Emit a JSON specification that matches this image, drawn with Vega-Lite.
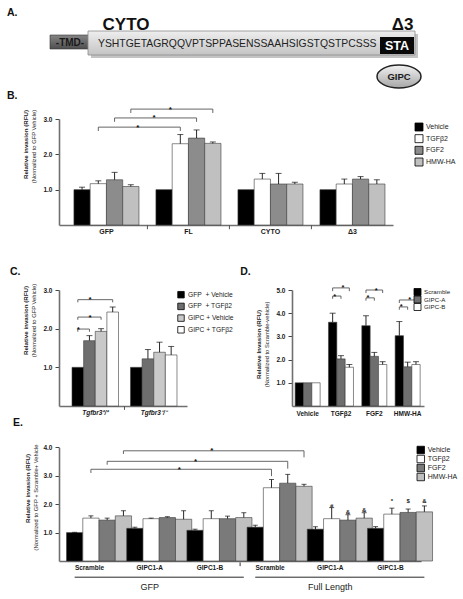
{
"$schema": "https://vega.github.io/schema/vega-lite/v6.json",
"padding": 0,
"background": "white",
"bounds": "flush",
"spacing": 29,
"resolve": {"scale": {"fill": "independent"}, "legend": {"fill": "independent"}},
"config": {
  "font": "Liberation Sans",
  "view": {"stroke": null},
  "axis": {"grid": false, "domainColor": "#707070", "domainWidth": 1.6, "tickColor": "#444444", "tickWidth": 1, "labelFont": "Liberation Sans", "labelFontWeight": "bold", "labelFontSize": 6.5, "labelColor": "#1a1a1a", "titleFont": "Liberation Sans", "titleFontSize": 6, "titleColor": "#1a1a1a"},
  "legend": {"symbolType": "square", "symbolStrokeColor": "#000000", "symbolStrokeWidth": 0.8, "labelFont": "Liberation Sans", "labelColor": "#1a1a1a", "labelOffset": 3, "padding": 0}
},
"datasets": {
  "diagram": [
    {"part": "frame", "x0": 0, "x1": 463, "y0": 0, "y1": 90},
    {"part": "shadow", "x0": 91, "x1": 418, "y0": 34, "y1": 58},
    {"part": "tmd", "x0": 50, "x1": 90, "y0": 35, "y1": 49},
    {"part": "cyto", "x0": 88, "x1": 415, "y0": 31, "y1": 55},
    {"part": "sta", "x0": 380, "x1": 414, "y0": 37, "y1": 54},
    {"part": "gipc", "x0": 399, "y0": 76.5}
  ],
  "diagram_text": [
    {"part": "panel", "label": "A.", "x": 7, "y": 16},
    {"part": "big", "label": "CYTO", "x": 126, "y": 30},
    {"part": "big", "label": "Δ3", "x": 402.5, "y": 30},
    {"part": "tmd", "label": "-TMD-", "x": 70, "y": 45.5},
    {"part": "seq", "label": "YSHTGETAGRQQVPTSPPASENSSAAHSIGSTQSTPCSSS", "x": 98, "y": 46.8},
    {"part": "sta", "label": "STA", "x": 397, "y": 49.8},
    {"part": "gipc", "label": "GIPC", "x": 399, "y": 80}
  ],
  "b_bars": [
    {"g": "GFP", "t": "Vehicle", "v": 1.0, "u": 1.07},
    {"g": "GFP", "t": "TGFβ2", "v": 1.17, "u": 1.25},
    {"g": "GFP", "t": "FGF2", "v": 1.28, "u": 1.49},
    {"g": "GFP", "t": "HMW-HA", "v": 1.09, "u": 1.14},
    {"g": "FL", "t": "Vehicle", "v": 1.0, "u": null},
    {"g": "FL", "t": "TGFβ2", "v": 2.30, "u": 2.56},
    {"g": "FL", "t": "FGF2", "v": 2.46, "u": 2.69},
    {"g": "FL", "t": "HMW-HA", "v": 2.31, "u": 2.35},
    {"g": "CYTO", "t": "Vehicle", "v": 1.0, "u": null},
    {"g": "CYTO", "t": "TGFβ2", "v": 1.30, "u": 1.46},
    {"g": "CYTO", "t": "FGF2", "v": 1.16, "u": 1.46},
    {"g": "CYTO", "t": "HMW-HA", "v": 1.16, "u": 1.21},
    {"g": "Δ3", "t": "Vehicle", "v": 1.0, "u": null},
    {"g": "Δ3", "t": "TGFβ2", "v": 1.16, "u": 1.30},
    {"g": "Δ3", "t": "FGF2", "v": 1.30, "u": 1.37},
    {"g": "Δ3", "t": "HMW-HA", "v": 1.16, "u": 1.28}
  ],
  "b_brackets": [
    {"id": "b1", "g": "GFP", "t": "TGFβ2", "y": 2.66, "o": 1},
    {"id": "b1", "g": "GFP", "t": "TGFβ2", "y": 2.77, "o": 2},
    {"id": "b1", "g": "FL", "t": "TGFβ2", "y": 2.77, "o": 3},
    {"id": "b1", "g": "FL", "t": "TGFβ2", "y": 2.66, "o": 4},
    {"id": "b2", "g": "GFP", "t": "FGF2", "y": 2.92, "o": 1},
    {"id": "b2", "g": "GFP", "t": "FGF2", "y": 3.03, "o": 2},
    {"id": "b2", "g": "FL", "t": "FGF2", "y": 3.03, "o": 3},
    {"id": "b2", "g": "FL", "t": "FGF2", "y": 2.92, "o": 4},
    {"id": "b3", "g": "GFP", "t": "HMW-HA", "y": 3.17, "o": 1},
    {"id": "b3", "g": "GFP", "t": "HMW-HA", "y": 3.28, "o": 2},
    {"id": "b3", "g": "FL", "t": "HMW-HA", "y": 3.28, "o": 3},
    {"id": "b3", "g": "FL", "t": "HMW-HA", "y": 3.17, "o": 4}
  ],
  "b_stars": [
    {"g": "GFP", "t": "TGFβ2", "y": 2.77},
    {"g": "GFP", "t": "FGF2", "y": 3.03},
    {"g": "GFP", "t": "HMW-HA", "y": 3.28}
  ],
  "b_seps": [{"g": "FL"}, {"g": "CYTO"}, {"g": "Δ3"}],
  "b_label": [{"g": "GFP", "label": "B.", "y": 3.552}],
  "c_bars": [
    {"g": "Tgfbr3⁺/⁺", "t": "GFP\u00a0 + Vehicle", "v": 1.0, "u": null},
    {"g": "Tgfbr3⁺/⁺", "t": "GFP\u00a0 + TGFβ2", "v": 1.69, "u": 1.82},
    {"g": "Tgfbr3⁺/⁺", "t": "GIPC + Vehicle", "v": 1.93, "u": 2.00},
    {"g": "Tgfbr3⁺/⁺", "t": "GIPC + TGFβ2", "v": 2.43, "u": 2.56},
    {"g": "Tgfbr3⁻/⁻", "t": "GFP\u00a0 + Vehicle", "v": 1.0, "u": null},
    {"g": "Tgfbr3⁻/⁻", "t": "GFP\u00a0 + TGFβ2", "v": 1.22, "u": 1.46},
    {"g": "Tgfbr3⁻/⁻", "t": "GIPC + Vehicle", "v": 1.39, "u": 1.65},
    {"g": "Tgfbr3⁻/⁻", "t": "GIPC + TGFβ2", "v": 1.32, "u": 1.54}
  ],
  "c_brackets": [
    {"id": "b1", "g": "Tgfbr3⁺/⁺", "t": "GFP\u00a0 + Vehicle", "y": 1.92, "o": 1},
    {"id": "b1", "g": "Tgfbr3⁺/⁺", "t": "GFP\u00a0 + Vehicle", "y": 1.99, "o": 2},
    {"id": "b1", "g": "Tgfbr3⁺/⁺", "t": "GFP\u00a0 + TGFβ2", "y": 1.99, "o": 3},
    {"id": "b1", "g": "Tgfbr3⁺/⁺", "t": "GFP\u00a0 + TGFβ2", "y": 1.92, "o": 4},
    {"id": "b2", "g": "Tgfbr3⁺/⁺", "t": "GFP\u00a0 + Vehicle", "y": 2.23, "o": 1},
    {"id": "b2", "g": "Tgfbr3⁺/⁺", "t": "GFP\u00a0 + Vehicle", "y": 2.30, "o": 2},
    {"id": "b2", "g": "Tgfbr3⁺/⁺", "t": "GIPC + Vehicle", "y": 2.30, "o": 3},
    {"id": "b2", "g": "Tgfbr3⁺/⁺", "t": "GIPC + Vehicle", "y": 2.23, "o": 4},
    {"id": "b3", "g": "Tgfbr3⁺/⁺", "t": "GFP\u00a0 + Vehicle", "y": 2.68, "o": 1},
    {"id": "b3", "g": "Tgfbr3⁺/⁺", "t": "GFP\u00a0 + Vehicle", "y": 2.75, "o": 2},
    {"id": "b3", "g": "Tgfbr3⁺/⁺", "t": "GIPC + TGFβ2", "y": 2.75, "o": 3},
    {"id": "b3", "g": "Tgfbr3⁺/⁺", "t": "GIPC + TGFβ2", "y": 2.68, "o": 4}
  ],
  "c_stars": [
    {"g": "Tgfbr3⁺/⁺", "t": "GFP\u00a0 + Vehicle", "y": 1.99},
    {"g": "Tgfbr3⁺/⁺", "t": "GFP\u00a0 + TGFβ2", "y": 2.30},
    {"g": "Tgfbr3⁺/⁺", "t": "GFP\u00a0 + TGFβ2", "y": 2.75}
  ],
  "c_seps": [{"g": "Tgfbr3⁻/⁻"}],
  "c_label": [{"g": "Tgfbr3⁺/⁺", "label": "C.", "y": 3.388}],
  "d_bars": [
    {"g": "Vehicle", "t": "Scramble", "v": 1.0, "u": null},
    {"g": "Vehicle", "t": "GIPC-A", "v": 1.0, "u": null},
    {"g": "Vehicle", "t": "GIPC-B", "v": 1.0, "u": null},
    {"g": "TGFβ2", "t": "Scramble", "v": 3.61, "u": 4.0},
    {"g": "TGFβ2", "t": "GIPC-A", "v": 2.03, "u": 2.17},
    {"g": "TGFβ2", "t": "GIPC-B", "v": 1.67, "u": 1.79},
    {"g": "FGF2", "t": "Scramble", "v": 3.46, "u": 3.89},
    {"g": "FGF2", "t": "GIPC-A", "v": 2.14, "u": 2.31},
    {"g": "FGF2", "t": "GIPC-B", "v": 1.79, "u": 1.91},
    {"g": "HMW-HA", "t": "Scramble", "v": 3.03, "u": 3.64},
    {"g": "HMW-HA", "t": "GIPC-A", "v": 1.69, "u": 1.89},
    {"g": "HMW-HA", "t": "GIPC-B", "v": 1.79, "u": 1.91}
  ],
  "d_brackets": [
    {"id": "t1", "g": "TGFβ2", "t": "Scramble", "y": 4.95, "o": 1},
    {"id": "t1", "g": "TGFβ2", "t": "Scramble", "y": 5.09, "o": 2},
    {"id": "t1", "g": "TGFβ2", "t": "GIPC-B", "y": 5.09, "o": 3},
    {"id": "t1", "g": "TGFβ2", "t": "GIPC-B", "y": 4.95, "o": 4},
    {"id": "t2", "g": "TGFβ2", "t": "Scramble", "y": 4.62, "o": 1},
    {"id": "t2", "g": "TGFβ2", "t": "Scramble", "y": 4.74, "o": 2},
    {"id": "t2", "g": "TGFβ2", "t": "GIPC-A", "y": 4.74, "o": 3},
    {"id": "t2", "g": "TGFβ2", "t": "GIPC-A", "y": 4.62, "o": 4},
    {"id": "f1", "g": "FGF2", "t": "Scramble", "y": 4.87, "o": 1},
    {"id": "f1", "g": "FGF2", "t": "Scramble", "y": 5.0, "o": 2},
    {"id": "f1", "g": "FGF2", "t": "GIPC-B", "y": 5.0, "o": 3},
    {"id": "f1", "g": "FGF2", "t": "GIPC-B", "y": 4.87, "o": 4},
    {"id": "f2", "g": "FGF2", "t": "Scramble", "y": 4.54, "o": 1},
    {"id": "f2", "g": "FGF2", "t": "Scramble", "y": 4.66, "o": 2},
    {"id": "f2", "g": "FGF2", "t": "GIPC-A", "y": 4.66, "o": 3},
    {"id": "f2", "g": "FGF2", "t": "GIPC-A", "y": 4.54, "o": 4},
    {"id": "h1", "g": "HMW-HA", "t": "Scramble", "y": 4.44, "o": 1},
    {"id": "h1", "g": "HMW-HA", "t": "Scramble", "y": 4.57, "o": 2},
    {"id": "h1", "g": "HMW-HA", "t": "GIPC-B", "y": 4.57, "o": 3},
    {"id": "h1", "g": "HMW-HA", "t": "GIPC-B", "y": 4.44, "o": 4},
    {"id": "h2", "g": "HMW-HA", "t": "Scramble", "y": 4.15, "o": 1},
    {"id": "h2", "g": "HMW-HA", "t": "Scramble", "y": 4.27, "o": 2},
    {"id": "h2", "g": "HMW-HA", "t": "GIPC-A", "y": 4.27, "o": 3},
    {"id": "h2", "g": "HMW-HA", "t": "GIPC-A", "y": 4.15, "o": 4}
  ],
  "d_stars": [
    {"g": "TGFβ2", "t": "GIPC-A", "y": 5.09},
    {"g": "TGFβ2", "t": "Scramble", "y": 4.74},
    {"g": "FGF2", "t": "GIPC-A", "y": 5.0},
    {"g": "FGF2", "t": "Scramble", "y": 4.66},
    {"g": "HMW-HA", "t": "GIPC-A", "y": 4.57},
    {"g": "HMW-HA", "t": "Scramble", "y": 4.27}
  ],
  "d_label": [{"g": "Vehicle", "label": "D.", "y": 5.65}],
  "e_bars": [
    {"g": "GFP|Scramble", "t": "Vehicle", "v": 1.0, "u": 1.01},
    {"g": "GFP|Scramble", "t": "TGFβ2", "v": 1.51, "u": 1.59},
    {"g": "GFP|Scramble", "t": "FGF2", "v": 1.44, "u": 1.51},
    {"g": "GFP|Scramble", "t": "HMW-HA", "v": 1.59, "u": 1.77},
    {"g": "GFP|GIPC1-A", "t": "Vehicle", "v": 1.15, "u": 1.19},
    {"g": "GFP|GIPC1-A", "t": "TGFβ2", "v": 1.49, "u": 1.51},
    {"g": "GFP|GIPC1-A", "t": "FGF2", "v": 1.53, "u": 1.56},
    {"g": "GFP|GIPC1-A", "t": "HMW-HA", "v": 1.47, "u": 1.77},
    {"g": "GFP|GIPC1-B", "t": "Vehicle", "v": 1.08, "u": 1.12},
    {"g": "GFP|GIPC1-B", "t": "TGFβ2", "v": 1.49, "u": 1.77},
    {"g": "GFP|GIPC1-B", "t": "FGF2", "v": 1.49, "u": 1.58},
    {"g": "GFP|GIPC1-B", "t": "HMW-HA", "v": 1.53, "u": 1.70},
    {"g": "FL|Scramble", "t": "Vehicle", "v": 1.19, "u": 1.26},
    {"g": "FL|Scramble", "t": "TGFβ2", "v": 2.58, "u": 2.87},
    {"g": "FL|Scramble", "t": "FGF2", "v": 2.74, "u": 3.05},
    {"g": "FL|Scramble", "t": "HMW-HA", "v": 2.63, "u": 2.70},
    {"g": "FL|GIPC1-A", "t": "Vehicle", "v": 1.12, "u": 1.21},
    {"g": "FL|GIPC1-A", "t": "TGFβ2", "v": 1.49, "u": 1.88},
    {"g": "FL|GIPC1-A", "t": "FGF2", "v": 1.44, "u": 1.63},
    {"g": "FL|GIPC1-A", "t": "HMW-HA", "v": 1.51, "u": 1.70},
    {"g": "FL|GIPC1-B", "t": "Vehicle", "v": 1.15, "u": 1.21},
    {"g": "FL|GIPC1-B", "t": "TGFβ2", "v": 1.65, "u": 1.86},
    {"g": "FL|GIPC1-B", "t": "FGF2", "v": 1.71, "u": 1.83},
    {"g": "FL|GIPC1-B", "t": "HMW-HA", "v": 1.73, "u": 1.94}
  ],
  "e_brackets": [
    {"id": "b1", "g": "GFP|Scramble", "t": "TGFβ2", "y": 3.10, "o": 1},
    {"id": "b1", "g": "GFP|Scramble", "t": "TGFβ2", "y": 3.23, "o": 2},
    {"id": "b1", "g": "FL|Scramble", "t": "TGFβ2", "y": 3.23, "o": 3},
    {"id": "b1", "g": "FL|Scramble", "t": "TGFβ2", "y": 2.99, "o": 4},
    {"id": "b2", "g": "GFP|Scramble", "t": "FGF2", "y": 3.39, "o": 1},
    {"id": "b2", "g": "GFP|Scramble", "t": "FGF2", "y": 3.51, "o": 2},
    {"id": "b2", "g": "FL|Scramble", "t": "FGF2", "y": 3.51, "o": 3},
    {"id": "b2", "g": "FL|Scramble", "t": "FGF2", "y": 3.25, "o": 4},
    {"id": "b3", "g": "GFP|Scramble", "t": "HMW-HA", "y": 3.77, "o": 1},
    {"id": "b3", "g": "GFP|Scramble", "t": "HMW-HA", "y": 3.88, "o": 2},
    {"id": "b3", "g": "FL|Scramble", "t": "HMW-HA", "y": 3.88, "o": 3},
    {"id": "b3", "g": "FL|Scramble", "t": "HMW-HA", "y": 3.65, "o": 4}
  ],
  "e_stars": [
    {"g": "GFP|Scramble", "t": "TGFβ2", "y": 3.23},
    {"g": "GFP|Scramble", "t": "FGF2", "y": 3.51},
    {"g": "GFP|Scramble", "t": "HMW-HA", "y": 3.88}
  ],
  "e_marks": [
    {"g": "FL|GIPC1-A", "t": "TGFβ2", "s": "#", "y": 1.93},
    {"g": "FL|GIPC1-A", "t": "FGF2", "s": "&", "y": 1.71},
    {"g": "FL|GIPC1-A", "t": "HMW-HA", "s": "&", "y": 1.80},
    {"g": "FL|GIPC1-B", "t": "TGFβ2", "s": "*", "y": 2.11},
    {"g": "FL|GIPC1-B", "t": "FGF2", "s": "$", "y": 2.11},
    {"g": "FL|GIPC1-B", "t": "HMW-HA", "s": "&", "y": 2.11}
  ],
  "e_lines": [
    {"id": "gfp", "g": "GFP|Scramble", "t": "Vehicle", "y": -0.57, "o": 1},
    {"id": "gfp", "g": "GFP|GIPC1-B", "t": "HMW-HA", "y": -0.57, "o": 2},
    {"id": "fl", "g": "FL|Scramble", "t": "Vehicle", "y": -0.57, "o": 1},
    {"id": "fl", "g": "FL|GIPC1-B", "t": "HMW-HA", "y": -0.57, "o": 2}
  ],
  "e_groups": [
    {"g": "GFP|GIPC1-A", "label": "GFP", "y": -0.93},
    {"g": "FL|GIPC1-A", "label": "Full Length", "y": -0.93}
  ],
  "e_seps": [{"g": "FL|Scramble"}],
  "e_label": [{"g": "GFP|Scramble", "label": "E.", "y": 4.754}]
},
"vconcat": [
  {
   "width": 404, "height": 90,
   "layer": [
    {"data": {"name": "diagram"}, "transform": [{"filter": "datum.part == 'frame'"}],
     "mark": {"type": "rect", "fill": "#ffffff"},
     "encoding": {
       "x": {"field": "x0", "type": "quantitative", "scale": {"domain": [59, 463], "nice": false, "zero": false}, "axis": null},
       "x2": {"field": "x1"},
       "y": {"field": "y0", "type": "quantitative", "scale": {"domain": [0, 90], "reverse": true, "nice": false, "zero": false}, "axis": null},
       "y2": {"field": "y1"}}},
    {"data": {"name": "diagram"}, "transform": [{"filter": "datum.part == 'shadow'"}],
     "mark": {"type": "rect", "fill": "#8a8a8a", "opacity": 0.5},
     "encoding": {"x": {"field": "x0", "type": "quantitative", "axis": null}, "x2": {"field": "x1"}, "y": {"field": "y0", "type": "quantitative", "axis": null}, "y2": {"field": "y1"}}},
    {"data": {"name": "diagram"}, "transform": [{"filter": "datum.part == 'tmd'"}],
     "mark": {"type": "rect", "stroke": "#333333", "strokeWidth": 0.6, "fill": {"gradient": "linear", "x1": 0, "y1": 0, "x2": 0, "y2": 1, "stops": [{"offset": 0, "color": "#858585"}, {"offset": 1, "color": "#4e4e4e"}]}},
     "encoding": {"x": {"field": "x0", "type": "quantitative", "axis": null}, "x2": {"field": "x1"}, "y": {"field": "y0", "type": "quantitative", "axis": null}, "y2": {"field": "y1"}}},
    {"data": {"name": "diagram"}, "transform": [{"filter": "datum.part == 'cyto'"}],
     "mark": {"type": "rect", "stroke": "#8a8a8a", "strokeWidth": 0.8, "fill": {"gradient": "linear", "x1": 0, "y1": 0, "x2": 0, "y2": 1, "stops": [{"offset": 0, "color": "#eeeeee"}, {"offset": 1, "color": "#c4c4c4"}]}},
     "encoding": {"x": {"field": "x0", "type": "quantitative", "axis": null}, "x2": {"field": "x1"}, "y": {"field": "y0", "type": "quantitative", "axis": null}, "y2": {"field": "y1"}}},
    {"data": {"name": "diagram"}, "transform": [{"filter": "datum.part == 'sta'"}],
     "mark": {"type": "rect", "fill": "#0a0a0a"},
     "encoding": {"x": {"field": "x0", "type": "quantitative", "axis": null}, "x2": {"field": "x1"}, "y": {"field": "y0", "type": "quantitative", "axis": null}, "y2": {"field": "y1"}}},
    {"data": {"name": "diagram"}, "transform": [{"filter": "datum.part == 'gipc'"}],
     "mark": {"type": "point", "filled": true, "opacity": 1, "size": 1936, "shape": "M -1 0 A 1 0.52 0 1 1 1 0 A 1 0.52 0 1 1 -1 0 Z", "stroke": "#222222", "strokeWidth": 1.5, "fill": {"gradient": "linear", "x1": 0, "y1": 0, "x2": 0, "y2": 1, "stops": [{"offset": 0, "color": "#f2f2f2"}, {"offset": 1, "color": "#a6a6a6"}]}},
     "encoding": {"x": {"field": "x0", "type": "quantitative", "axis": null}, "y": {"field": "y0", "type": "quantitative", "axis": null}}},
    {"data": {"name": "diagram_text"}, "transform": [{"filter": "datum.part == 'panel'"}],
     "mark": {"type": "text", "align": "left", "baseline": "alphabetic", "fontSize": 10.5, "fontWeight": "bold", "color": "#111111"},
     "encoding": {"x": {"field": "x", "type": "quantitative", "axis": null}, "y": {"field": "y", "type": "quantitative", "axis": null}, "text": {"field": "label"}}},
    {"data": {"name": "diagram_text"}, "transform": [{"filter": "datum.part == 'big'"}],
     "mark": {"type": "text", "align": "center", "baseline": "alphabetic", "fontSize": 17, "fontWeight": "bold", "color": "#111111"},
     "encoding": {"x": {"field": "x", "type": "quantitative", "axis": null}, "y": {"field": "y", "type": "quantitative", "axis": null}, "text": {"field": "label"}}},
    {"data": {"name": "diagram_text"}, "transform": [{"filter": "datum.part == 'tmd'"}],
     "mark": {"type": "text", "align": "center", "baseline": "alphabetic", "fontSize": 10, "fontWeight": "bold", "color": "#1a1a1a"},
     "encoding": {"x": {"field": "x", "type": "quantitative", "axis": null}, "y": {"field": "y", "type": "quantitative", "axis": null}, "text": {"field": "label"}}},
    {"data": {"name": "diagram_text"}, "transform": [{"filter": "datum.part == 'seq'"}],
     "mark": {"type": "text", "align": "left", "baseline": "alphabetic", "fontSize": 10.4, "color": "#222222"},
     "encoding": {"x": {"field": "x", "type": "quantitative", "axis": null}, "y": {"field": "y", "type": "quantitative", "axis": null}, "text": {"field": "label"}}},
    {"data": {"name": "diagram_text"}, "transform": [{"filter": "datum.part == 'sta'"}],
     "mark": {"type": "text", "align": "center", "baseline": "alphabetic", "fontSize": 12.5, "fontWeight": "bold", "color": "#ffffff"},
     "encoding": {"x": {"field": "x", "type": "quantitative", "axis": null}, "y": {"field": "y", "type": "quantitative", "axis": null}, "text": {"field": "label"}}},
    {"data": {"name": "diagram_text"}, "transform": [{"filter": "datum.part == 'gipc'"}],
     "mark": {"type": "text", "align": "center", "baseline": "alphabetic", "fontSize": 9.5, "fontWeight": "bold", "color": "#1a1a1a"},
     "encoding": {"x": {"field": "x", "type": "quantitative", "axis": null}, "y": {"field": "y", "type": "quantitative", "axis": null}, "text": {"field": "label"}}}
   ]
  },
  {
   "width": 334, "height": 106,
   "resolve": {"scale": {"x": "independent", "y": "independent"}},
   "layer": [
    {
     "resolve": {"axis": {"y": "independent"}},
     "layer": [
      {"data": {"name": "b_bars"},
       "mark": {"type": "bar", "stroke": "#3a3a3a", "strokeWidth": 0.6},
       "encoding": {
         "x": {"field": "g", "type": "nominal", "scale": {"domain": ["GFP", "FL", "CYTO", "Δ3"], "paddingInner": 0.207, "paddingOuter": 0.14, "align": 0.65}, "axis": {"title": null, "labelAngle": 0, "ticks": false, "labelPadding": 2.5, "labelFontSize": 7}},
         "xOffset": {"field": "t", "type": "nominal", "scale": {"domain": ["Vehicle", "TGFβ2", "FGF2", "HMW-HA"], "paddingInner": 0, "paddingOuter": 0}},
         "y": {"field": "v", "type": "quantitative", "scale": {"domain": [0, 3], "nice": false}, "axis": {"orient": "left", "values": [1, 2, 3], "format": ".1f", "title": "Relative invasion (RFU)", "titleFontWeight": "bold", "titleFontSize": 6.2, "titlePadding": 14, "titleY": 25, "tickSize": 4, "labelPadding": 3}},
         "fill": {"field": "t", "type": "nominal", "scale": {"domain": ["Vehicle", "TGFβ2", "FGF2", "HMW-HA"], "range": ["#000000", "#ffffff", "#8c8c8c", "#c0c0c0"]}, "legend": null}
       }},
      {"data": {"name": "b_bars"}, "transform": [{"filter": "isValid(datum.u)"}],
       "mark": {"type": "rule", "color": "#111111", "strokeWidth": 0.9},
       "encoding": {
         "x": {"field": "g", "type": "nominal"},
         "xOffset": {"field": "t", "type": "nominal"},
         "y": {"field": "v", "type": "quantitative", "axis": {"orient": "left", "title": "(Normalized to GFP Vehicle)", "titleFontWeight": "normal", "titleFontSize": 5.8, "domain": false, "ticks": false, "labels": false, "titlePadding": 23, "titleY": 27}},
         "y2": {"field": "u"}}},
      {"data": {"name": "b_bars"}, "transform": [{"filter": "isValid(datum.u)"}],
       "mark": {"type": "tick", "orient": "horizontal", "size": 6, "thickness": 1, "color": "#111111"},
       "encoding": {"x": {"field": "g", "type": "nominal"}, "xOffset": {"field": "t", "type": "nominal"}, "y": {"field": "u", "type": "quantitative", "axis": null}}},
      {"data": {"name": "b_brackets"},
       "mark": {"type": "line", "color": "#555555", "strokeWidth": 0.9},
       "encoding": {"x": {"field": "g", "type": "nominal"}, "xOffset": {"field": "t", "type": "nominal"}, "y": {"field": "y", "type": "quantitative", "axis": null}, "detail": {"field": "id"}, "order": {"field": "o"}}},
      {"data": {"name": "b_stars"},
       "mark": {"type": "text", "text": "*", "fontSize": 8, "fontWeight": "bold", "dx": 39.5, "dy": 2.5, "baseline": "alphabetic", "align": "center", "color": "#111111"},
       "encoding": {"x": {"field": "g", "type": "nominal"}, "xOffset": {"field": "t", "type": "nominal"}, "y": {"field": "y", "type": "quantitative", "axis": null}}},
      {"data": {"name": "b_seps"},
       "mark": {"type": "rule", "color": "#555555", "strokeWidth": 1, "xOffset": -8.5},
       "encoding": {"x": {"field": "g", "type": "nominal", "bandPosition": 0}, "y": {"datum": 0, "type": "quantitative", "axis": null}, "y2": {"datum": -0.12}}},
      {"data": {"name": "b_label"},
       "mark": {"type": "text", "align": "left", "baseline": "alphabetic", "fontSize": 10.5, "fontWeight": "bold", "color": "#111111", "dx": -67},
       "encoding": {"x": {"field": "g", "type": "nominal", "bandPosition": 0}, "y": {"field": "y", "type": "quantitative", "axis": null}, "text": {"field": "label"}}}
     ]
    },
    {
     "data": {"name": "b_bars"}, "transform": [{"filter": "datum.g == 'GFP'"}],
     "layer": [
      {"mark": {"type": "point", "shape": "square", "filled": true, "opacity": 1, "size": 64, "stroke": "#000000", "strokeWidth": 0.8},
       "encoding": {
         "x": {"datum": 0, "type": "quantitative", "scale": {"domain": [0, 1], "range": [360, 361]}, "axis": null},
         "y": {"field": "t", "type": "nominal", "scale": {"type": "point", "domain": ["Vehicle", "TGFβ2", "FGF2", "HMW-HA"], "range": [8, 43], "padding": 0}, "axis": null},
         "fill": {"field": "t", "type": "nominal", "legend": null}}},
      {"mark": {"type": "text", "align": "left", "baseline": "middle", "fontSize": 7, "dx": 7, "color": "#1a1a1a"},
       "encoding": {"x": {"datum": 0, "type": "quantitative"}, "y": {"field": "t", "type": "nominal"}, "text": {"field": "t"}}}
     ]
    }
   ]
  },
  {
   "width": 365, "height": 152,
   "resolve": {"scale": {"x": "independent", "y": "independent", "xOffset": "independent", "fill": "independent"}, "axis": {"x": "independent", "y": "independent"}, "legend": {"fill": "independent"}},
   "layer": [
    {
     "resolve": {"axis": {"y": "independent"}},
     "layer": [
      {"data": {"name": "c_bars"},
       "mark": {"type": "bar", "stroke": "#3a3a3a", "strokeWidth": 0.6},
       "encoding": {
         "x": {"field": "g", "type": "nominal", "scale": {"domain": ["Tgfbr3⁺/⁺", "Tgfbr3⁻/⁻"], "range": [0, 128], "paddingInner": 0.205, "paddingOuter": 0.197, "align": 0.565}, "axis": {"orient": "bottom", "title": null, "labelAngle": 0, "ticks": false, "labelPadding": 3, "labelFontSize": 6.5, "labelFontStyle": "italic"}},
         "xOffset": {"field": "t", "type": "nominal", "scale": {"domain": ["GFP\u00a0 + Vehicle", "GFP\u00a0 + TGFβ2", "GIPC + Vehicle", "GIPC + TGFβ2"], "paddingInner": 0, "paddingOuter": 0}},
         "y": {"field": "v", "type": "quantitative", "scale": {"domain": [0, 3], "range": [152, 36], "nice": false}, "axis": {"orient": "left", "values": [1, 2, 3], "format": ".1f", "title": "Relative invasion (RFU)", "titleFontWeight": "bold", "titleFontSize": 6.2, "titlePadding": 14, "titleY": 66, "tickSize": 4, "labelPadding": 3}},
         "fill": {"field": "t", "type": "nominal", "scale": {"domain": ["GFP\u00a0 + Vehicle", "GFP\u00a0 + TGFβ2", "GIPC + Vehicle", "GIPC + TGFβ2"], "range": ["#000000", "#6e6e6e", "#c9c9c9", "#ffffff"]}, "legend": {"title": null, "orient": "none", "legendX": 118, "legendY": 36.7, "symbolSize": 42, "labelFontSize": 6.7, "rowPadding": 1.7}}
       }},
      {"data": {"name": "c_bars"}, "transform": [{"filter": "isValid(datum.u)"}],
       "mark": {"type": "rule", "color": "#111111", "strokeWidth": 0.9},
       "encoding": {
         "x": {"field": "g", "type": "nominal"},
         "xOffset": {"field": "t", "type": "nominal"},
         "y": {"field": "v", "type": "quantitative", "axis": {"orient": "left", "title": "(Normalized to GFP Vehicle)", "titleFontWeight": "normal", "titleFontSize": 5.8, "domain": false, "ticks": false, "labels": false, "titlePadding": 23, "titleY": 66}},
         "y2": {"field": "u"}}},
      {"data": {"name": "c_bars"}, "transform": [{"filter": "isValid(datum.u)"}],
       "mark": {"type": "tick", "orient": "horizontal", "size": 6, "thickness": 1, "color": "#111111"},
       "encoding": {"x": {"field": "g", "type": "nominal"}, "xOffset": {"field": "t", "type": "nominal"}, "y": {"field": "u", "type": "quantitative", "axis": null}}},
      {"data": {"name": "c_brackets"},
       "mark": {"type": "line", "color": "#555555", "strokeWidth": 0.9},
       "encoding": {"x": {"field": "g", "type": "nominal"}, "xOffset": {"field": "t", "type": "nominal"}, "y": {"field": "y", "type": "quantitative", "axis": null}, "detail": {"field": "id"}, "order": {"field": "o"}}},
      {"data": {"name": "c_stars"},
       "mark": {"type": "text", "text": "*", "fontSize": 8, "fontWeight": "bold", "dx": 0.5, "dy": 2.5, "baseline": "alphabetic", "align": "center", "color": "#111111"},
       "encoding": {"x": {"field": "g", "type": "nominal"}, "xOffset": {"field": "t", "type": "nominal"}, "y": {"field": "y", "type": "quantitative", "axis": null}}},
      {"data": {"name": "c_seps"},
       "mark": {"type": "rule", "color": "#555555", "strokeWidth": 1, "xOffset": -6},
       "encoding": {"x": {"field": "g", "type": "nominal", "bandPosition": 0}, "y": {"datum": 0, "type": "quantitative", "axis": null}, "y2": {"datum": -0.1}}},
      {"data": {"name": "c_label"},
       "mark": {"type": "text", "align": "left", "baseline": "alphabetic", "fontSize": 10.5, "fontWeight": "bold", "color": "#111111", "dx": -62},
       "encoding": {"x": {"field": "g", "type": "nominal", "bandPosition": 0}, "y": {"field": "y", "type": "quantitative", "axis": null}, "text": {"field": "label"}}}
     ]
    },
    {
     "resolve": {"scale": {"x": "independent", "y": "independent"}},
     "layer": [
      {
       "resolve": {"axis": {"y": "independent"}},
       "layer": [
        {"data": {"name": "d_bars"},
         "mark": {"type": "bar", "stroke": "#3a3a3a", "strokeWidth": 0.6},
         "encoding": {
           "x": {"field": "g", "type": "nominal", "scale": {"domain": ["Vehicle", "TGFβ2", "FGF2", "HMW-HA"], "range": [233, 365], "paddingInner": 0.25, "paddingOuter": 0.105, "align": 0.45}, "axis": {"orient": "bottom", "title": null, "labelAngle": 0, "ticks": false, "labelPadding": 4, "labelFontSize": 6.5}},
           "xOffset": {"field": "t", "type": "nominal", "scale": {"domain": ["Scramble", "GIPC-A", "GIPC-B"], "paddingInner": 0, "paddingOuter": 0}},
           "y": {"field": "v", "type": "quantitative", "scale": {"domain": [0, 5], "range": [152, 36], "nice": false}, "axis": {"orient": "left", "offset": -233, "values": [1, 2, 3, 4, 5], "format": ".1f", "title": "Relative Invasion (RFU)", "titleFontWeight": "bold", "titleFontSize": 6.2, "titlePadding": 14, "titleY": 90, "tickSize": 4, "labelPadding": 3}},
           "fill": {"field": "t", "type": "nominal", "scale": {"domain": ["Scramble", "GIPC-A", "GIPC-B"], "range": ["#000000", "#6e6e6e", "#ffffff"]}, "legend": null}
         }},
        {"data": {"name": "d_bars"}, "transform": [{"filter": "isValid(datum.u)"}],
         "mark": {"type": "rule", "color": "#111111", "strokeWidth": 0.9},
         "encoding": {
           "x": {"field": "g", "type": "nominal"},
           "xOffset": {"field": "t", "type": "nominal"},
           "y": {"field": "v", "type": "quantitative", "axis": {"orient": "left", "offset": -233, "title": "(Normalized to Scramble-vehicle)", "titleFontWeight": "normal", "titleFontSize": 5.8, "domain": false, "ticks": false, "labels": false, "titlePadding": 23, "titleY": 90}},
           "y2": {"field": "u"}}},
        {"data": {"name": "d_bars"}, "transform": [{"filter": "isValid(datum.u)"}],
         "mark": {"type": "tick", "orient": "horizontal", "size": 6, "thickness": 1, "color": "#111111"},
         "encoding": {"x": {"field": "g", "type": "nominal"}, "xOffset": {"field": "t", "type": "nominal"}, "y": {"field": "u", "type": "quantitative", "axis": null}}},
        {"data": {"name": "d_brackets"},
         "mark": {"type": "line", "color": "#555555", "strokeWidth": 0.9},
         "encoding": {"x": {"field": "g", "type": "nominal"}, "xOffset": {"field": "t", "type": "nominal"}, "y": {"field": "y", "type": "quantitative", "axis": null}, "detail": {"field": "id"}, "order": {"field": "o"}}},
        {"data": {"name": "d_stars"},
         "mark": {"type": "text", "text": "*", "fontSize": 7.5, "fontWeight": "bold", "dx": 2, "dy": 2.5, "baseline": "alphabetic", "align": "center", "color": "#111111"},
         "encoding": {"x": {"field": "g", "type": "nominal"}, "xOffset": {"field": "t", "type": "nominal"}, "y": {"field": "y", "type": "quantitative", "axis": null}}},
        {"data": {"name": "d_label"},
         "mark": {"type": "text", "align": "left", "baseline": "alphabetic", "fontSize": 10.5, "fontWeight": "bold", "color": "#111111", "dx": -55},
         "encoding": {"x": {"field": "g", "type": "nominal", "bandPosition": 0}, "y": {"field": "y", "type": "quantitative", "axis": null}, "text": {"field": "label"}}}
       ]
      },
      {
       "data": {"name": "d_bars"}, "transform": [{"filter": "datum.g == 'Vehicle'"}],
       "layer": [
        {"mark": {"type": "point", "shape": "square", "filled": true, "opacity": 1, "size": 49, "stroke": "#000000", "strokeWidth": 0.8},
         "encoding": {
           "x": {"datum": 0, "type": "quantitative", "scale": {"domain": [0, 1], "range": [358.5, 359.5]}, "axis": null},
           "y": {"field": "t", "type": "nominal", "scale": {"type": "point", "domain": ["Scramble", "GIPC-A", "GIPC-B"], "range": [38, 53], "padding": 0}, "axis": null},
           "fill": {"field": "t", "type": "nominal", "legend": null}}},
        {"mark": {"type": "text", "align": "left", "baseline": "middle", "fontSize": 6.2, "dx": 6.5, "color": "#1a1a1a"},
         "encoding": {"x": {"datum": 0, "type": "quantitative"}, "y": {"field": "t", "type": "nominal"}, "text": {"field": "t"}}}
       ]
      }
     ]
    }
   ]
  },
  {
   "width": 362, "height": 126,
   "resolve": {"scale": {"x": "independent", "y": "independent"}},
   "layer": [
    {
     "resolve": {"axis": {"y": "independent"}},
     "layer": [
      {"data": {"name": "e_bars"},
       "mark": {"type": "bar", "stroke": "#3a3a3a", "strokeWidth": 0.6},
       "encoding": {
         "x": {"field": "g", "type": "nominal", "scale": {"domain": ["GFP|Scramble", "GFP|GIPC1-A", "GFP|GIPC1-B", "FL|Scramble", "FL|GIPC1-A", "FL|GIPC1-B"], "paddingInner": 0.236, "paddingOuter": 0.125}, "axis": {"title": null, "labelAngle": 0, "ticks": false, "labelPadding": 3, "labelFontSize": 6.5, "labelExpr": "split(datum.label, '|')[1]"}},
         "xOffset": {"field": "t", "type": "nominal", "scale": {"domain": ["Vehicle", "TGFβ2", "FGF2", "HMW-HA"], "paddingInner": 0, "paddingOuter": 0}},
         "y": {"field": "v", "type": "quantitative", "scale": {"domain": [0, 4], "range": [126, 12.4], "nice": false}, "axis": {"orient": "left", "values": [1, 2, 3, 4], "format": ".1f", "title": "Relative invasion (RFU)", "titleFontWeight": "bold", "titleFontSize": 6.2, "titlePadding": 12, "titleY": 53, "tickSize": 4, "labelPadding": 3}},
         "fill": {"field": "t", "type": "nominal", "scale": {"domain": ["Vehicle", "TGFβ2", "FGF2", "HMW-HA"], "range": ["#000000", "#ffffff", "#7a7a7a", "#c0c0c0"]}, "legend": null}
       }},
      {"data": {"name": "e_bars"}, "transform": [{"filter": "isValid(datum.u)"}],
       "mark": {"type": "rule", "color": "#111111", "strokeWidth": 0.9},
       "encoding": {
         "x": {"field": "g", "type": "nominal"},
         "xOffset": {"field": "t", "type": "nominal"},
         "y": {"field": "v", "type": "quantitative", "axis": {"orient": "left", "title": "(Normalized to  GFP + Scramble+ Vehicle", "titleFontWeight": "normal", "titleFontSize": 5.8, "domain": false, "ticks": false, "labels": false, "titlePadding": 21, "titleY": 62}},
         "y2": {"field": "u"}}},
      {"data": {"name": "e_bars"}, "transform": [{"filter": "isValid(datum.u)"}],
       "mark": {"type": "tick", "orient": "horizontal", "size": 5, "thickness": 1, "color": "#111111"},
       "encoding": {"x": {"field": "g", "type": "nominal"}, "xOffset": {"field": "t", "type": "nominal"}, "y": {"field": "u", "type": "quantitative", "axis": null}}},
      {"data": {"name": "e_brackets"},
       "mark": {"type": "line", "color": "#555555", "strokeWidth": 0.9},
       "encoding": {"x": {"field": "g", "type": "nominal"}, "xOffset": {"field": "t", "type": "nominal"}, "y": {"field": "y", "type": "quantitative", "axis": null}, "detail": {"field": "id"}, "order": {"field": "o"}}},
      {"data": {"name": "e_stars"},
       "mark": {"type": "text", "text": "*", "fontSize": 8, "fontWeight": "bold", "dx": 88.5, "dy": 2.5, "baseline": "alphabetic", "align": "center", "color": "#111111"},
       "encoding": {"x": {"field": "g", "type": "nominal"}, "xOffset": {"field": "t", "type": "nominal"}, "y": {"field": "y", "type": "quantitative", "axis": null}}},
      {"data": {"name": "e_marks"},
       "mark": {"type": "text", "fontSize": 6, "fontWeight": "bold", "baseline": "middle", "align": "center", "color": "#222222"},
       "encoding": {"x": {"field": "g", "type": "nominal"}, "xOffset": {"field": "t", "type": "nominal"}, "y": {"field": "y", "type": "quantitative", "axis": null}, "text": {"field": "s"}}},
      {"data": {"name": "e_lines"},
       "mark": {"type": "line", "color": "#111111", "strokeWidth": 0.9},
       "encoding": {"x": {"field": "g", "type": "nominal"}, "xOffset": {"field": "t", "type": "nominal"}, "y": {"field": "y", "type": "quantitative", "axis": null}, "detail": {"field": "id"}, "order": {"field": "o"}}},
      {"data": {"name": "e_groups"},
       "mark": {"type": "text", "fontSize": 9, "baseline": "middle", "align": "center", "color": "#222222"},
       "encoding": {"x": {"field": "g", "type": "nominal"}, "y": {"field": "y", "type": "quantitative", "axis": null}, "text": {"field": "label"}}},
      {"data": {"name": "e_seps"},
       "mark": {"type": "rule", "color": "#333333", "strokeWidth": 1, "xOffset": -7},
       "encoding": {"x": {"field": "g", "type": "nominal", "bandPosition": 0}, "y": {"datum": -0.05, "type": "quantitative", "axis": null}, "y2": {"datum": -0.18}}},
      {"data": {"name": "e_label"},
       "mark": {"type": "text", "align": "left", "baseline": "alphabetic", "fontSize": 10.5, "fontWeight": "bold", "color": "#111111", "dx": -53.5},
       "encoding": {"x": {"field": "g", "type": "nominal", "bandPosition": 0}, "y": {"field": "y", "type": "quantitative", "axis": null}, "text": {"field": "label"}}}
     ]
    },
    {
     "data": {"name": "e_bars"}, "transform": [{"filter": "datum.g == 'GFP|Scramble'"}],
     "layer": [
      {"mark": {"type": "point", "shape": "square", "filled": true, "opacity": 1, "size": 56, "stroke": "#000000", "strokeWidth": 0.8},
       "encoding": {
         "x": {"datum": 0, "type": "quantitative", "scale": {"domain": [0, 1], "range": [361.75, 362.75]}, "axis": null},
         "y": {"field": "t", "type": "nominal", "scale": {"type": "point", "domain": ["Vehicle", "TGFβ2", "FGF2", "HMW-HA"], "range": [15, 42], "padding": 0}, "axis": null},
         "fill": {"field": "t", "type": "nominal", "legend": null}}},
      {"mark": {"type": "text", "align": "left", "baseline": "middle", "fontSize": 7, "dx": 7, "color": "#1a1a1a"},
       "encoding": {"x": {"datum": 0, "type": "quantitative"}, "y": {"field": "t", "type": "nominal"}, "text": {"field": "t"}}}
     ]
    }
   ]
  }
]
}
